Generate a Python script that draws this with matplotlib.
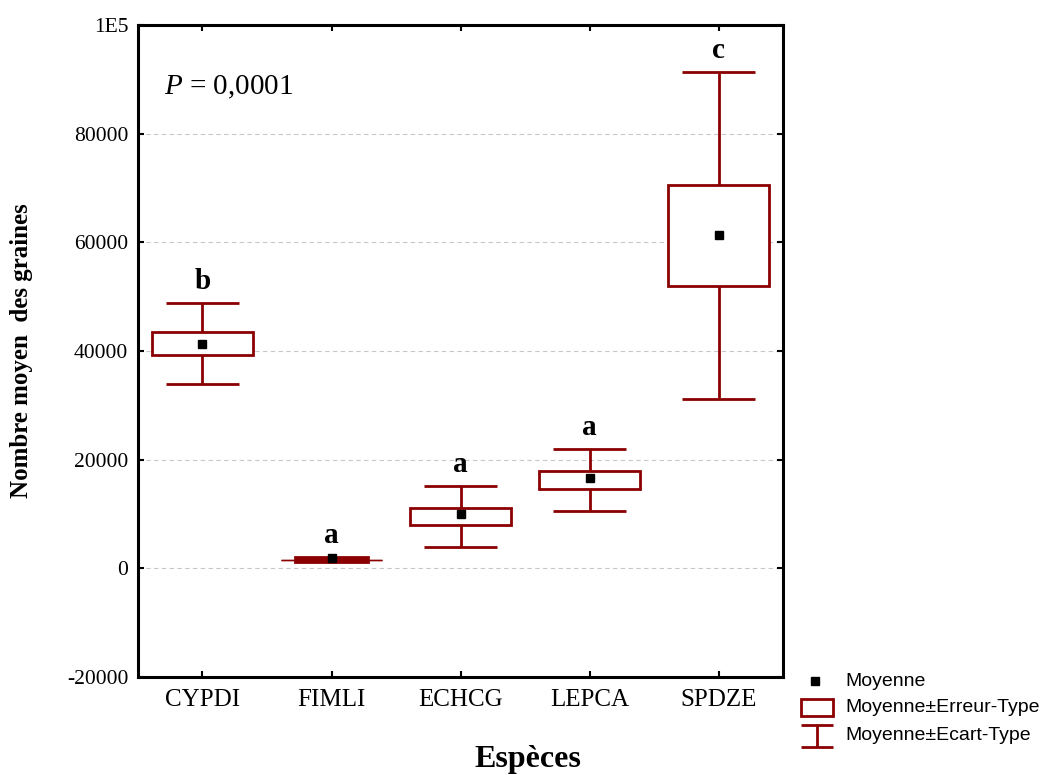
import matplotlib
matplotlib.use("Agg")
import matplotlib.pyplot as plt
from matplotlib.patches import Rectangle

categories = ["CYPDI", "FIMLI", "ECHCG", "LEPCA", "SPDZE"]
means = [41300, 1900, 9950, 16600, 61400]
se_low = [39250, 1250, 7950, 14550, 52000]
se_high = [43500, 2000, 11050, 17900, 70600]
sd_low = [33900, 1450, 3900, 10500, 31200]
sd_high = [48800, 1450, 15200, 22000, 91400]
letters = ["b", "a", "a", "a", "c"]
yticks = [-20000, 0, 20000, 40000, 60000, 80000, 100000]
ytick_labels = ["-20000", "0", "20000", "40000", "60000", "80000", "1E5"]

RED = "#8b0000"
serif = ["Liberation Serif", "DejaVu Serif"]
sans = ["Liberation Sans", "DejaVu Sans"]
plt.rcParams["mathtext.fontset"] = "custom"
plt.rcParams["mathtext.it"] = "Liberation Serif:italic"
plt.rcParams["mathtext.rm"] = "Liberation Serif"

fig = plt.figure(figsize=(10.49, 7.75), dpi=100)
ax = fig.add_axes([138/1049, 1-677/775, (783-138)/1049, (677-25)/775])

box_w = 0.79
cap_w = 0.56
for i, cat in enumerate(categories):
    narrow = (sd_high[i] - sd_low[i]) < 3000
    cw = box_w if narrow else cap_w
    bw = cap_w if narrow else box_w
    wl = 1.0 if narrow else 2.0
    ax.plot([i, i], [sd_low[i], se_low[i]], color=RED, lw=2.0, solid_capstyle="butt", zorder=2)
    ax.plot([i, i], [se_high[i], sd_high[i]], color=RED, lw=2.0, solid_capstyle="butt", zorder=2)
    ax.plot([i - cw/2, i + cw/2], [sd_low[i]]*2, color=RED, lw=wl, solid_capstyle="butt", zorder=2)
    ax.plot([i - cw/2, i + cw/2], [sd_high[i]]*2, color=RED, lw=wl, solid_capstyle="butt", zorder=2)
    ax.add_patch(Rectangle((i - bw/2, se_low[i]), bw, se_high[i] - se_low[i],
                           facecolor=RED if narrow else "white", edgecolor=RED, lw=2.0, zorder=3))
    ax.plot(i, means[i], marker="s", color="black", ms=6, zorder=4, linestyle="none")
    top = max(sd_high[i], se_high[i], means[i])
    ax.text(i, top + 1500, letters[i], ha="center", va="bottom",
            fontsize=21, fontweight="bold", family=serif)

ax.set_xlim(-0.5, 4.5)
ax.set_ylim(-20000, 100000)
ax.set_xticks(range(len(categories)))
ax.set_xticklabels(categories, family=serif, fontsize=18)
ax.set_yticks(yticks)
ax.set_yticklabels(ytick_labels, family=serif, fontsize=15.5)
ax.tick_params(direction="in", length=4, width=1.5, top=True, right=True)
ax.tick_params(axis="x", pad=9)
ax.tick_params(axis="y", pad=7)
for s in ax.spines.values():
    s.set_linewidth(2.2)
for y in [0, 20000, 40000, 60000, 80000]:
    ax.axhline(y, color="#c8c8c8", lw=0.8, ls=(0, (4, 3)), zorder=0)

ax.set_ylabel("Nombre moyen  des graines", family=serif, fontsize=18, fontweight="bold")
ax.yaxis.set_label_coords(-0.163, 0.5)
fig.text(528/1049, 1-760/775, "Espèces", family=serif, fontsize=23, fontweight="bold",
         ha="center", va="center")
ax.text(0.04, 0.905, r"$P$ = 0,0001", transform=ax.transAxes, family=serif, fontsize=21,
        ha="left", va="center")

# legend (manual)
lax = fig.add_axes([790/1049, 0, 259/1049, 120/775])
lax.set_xlim(0, 259)
lax.set_ylim(120, 0)
lax.axis("off")
lax.plot(25, 26, marker="s", color="black", ms=6)
lax.add_patch(Rectangle((11, 44), 32, 17, facecolor="white", edgecolor=RED, lw=2.0))
lax.plot([11, 43], [70, 70], color=RED, lw=2.0, solid_capstyle="butt")
lax.plot([11, 43], [92, 92], color=RED, lw=2.0, solid_capstyle="butt")
lax.plot([27, 27], [70, 92], color=RED, lw=2.0, solid_capstyle="butt")
for yy, t in [(26, "Moyenne"), (53, "Moyenne±Erreur-Type"), (81, "Moyenne±Ecart-Type")]:
    lax.text(55, yy, t, family=sans, fontsize=14, va="center", ha="left")

fig.savefig("out.png", dpi=100)
